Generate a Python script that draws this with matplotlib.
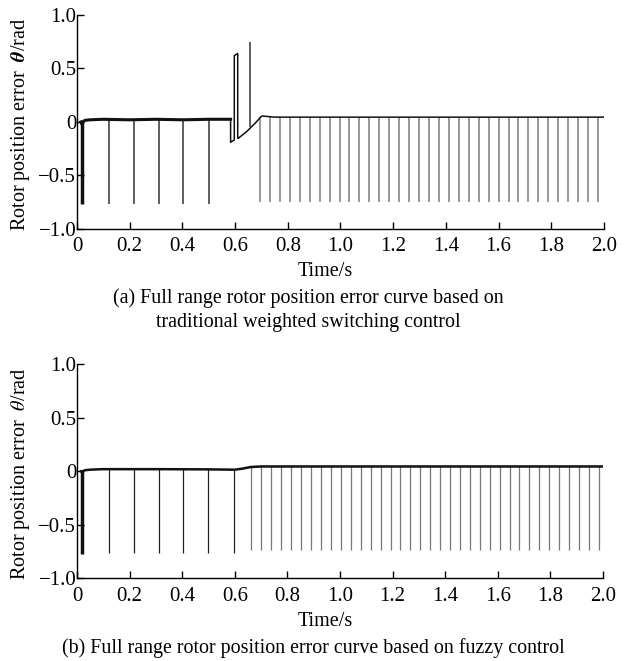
import matplotlib
matplotlib.use("Agg")
import matplotlib.pyplot as plt

plt.rcParams['font.family'] = ['Liberation Serif', 'DejaVu Serif']
plt.rcParams['mathtext.fontset'] = 'stix'

# --- (a) traditional weighted switching control ---
a_base_t = [0.015, 0.018, 0.022, 0.03, 0.05, 0.1, 0.2, 0.3, 0.4, 0.5, 0.583,
            0.583, 0.589, 0.597, 0.597, 0.61, 0.61, 0.612, 0.644, 0.676, 0.701, 0.75, 2.0]
a_base_v = [0.0, -0.02, 0.0, 0.015, 0.02, 0.025, 0.02, 0.025, 0.02, 0.025, 0.025,
            -0.19, -0.18, -0.17, 0.62, 0.64, -0.15, -0.153, -0.09, -0.012, 0.056, 0.045, 0.045]
a_early_spikes = [0.121, 0.216, 0.311, 0.404, 0.501]
a_early_depth = -0.77
a_up_spike_t = 0.658
a_up_spike = [-0.05, 0.75]
a_late_spikes = [0.695, 0.733, 0.771, 0.808, 0.846, 0.884, 0.921, 0.959, 0.997, 1.034,
                 1.072, 1.110, 1.148, 1.185, 1.223, 1.261, 1.298, 1.336, 1.374, 1.411,
                 1.449, 1.487, 1.525, 1.562, 1.600, 1.638, 1.675, 1.713, 1.751, 1.788,
                 1.826, 1.864, 1.902, 1.939, 1.977]
a_late_top = 0.045
a_late_depth = -0.745

# --- (b) fuzzy control ---
b_base_t = [0.015, 0.018, 0.022, 0.03, 0.05, 0.1, 0.3, 0.5, 0.6, 0.63, 0.66, 0.7, 2.0]
b_base_v = [0.0, -0.01, 0.0, 0.01, 0.015, 0.02, 0.02, 0.018, 0.015, 0.025, 0.04, 0.045, 0.045]
b_early_spikes = [0.123, 0.218, 0.312, 0.404, 0.500, 0.596]
b_early_depth = -0.76
b_late_spikes = [0.663, 0.701, 0.739, 0.776, 0.814, 0.852, 0.890, 0.927, 0.965, 1.003,
                 1.041, 1.078, 1.116, 1.154, 1.192, 1.229, 1.267, 1.305, 1.343, 1.380,
                 1.418, 1.456, 1.494, 1.531, 1.569, 1.607, 1.645, 1.682, 1.720, 1.758,
                 1.796, 1.833, 1.871, 1.909, 1.947, 1.985]
b_late_top = 0.045
b_late_depth = -0.74

start_spike_t = 0.018
start_spike_depth = -0.77

x_ticks = [0, 0.2, 0.4, 0.6, 0.8, 1.0, 1.2, 1.4, 1.6, 1.8, 2.0]
x_labels = ["0", "0.2", "0.4", "0.6", "0.8", "1.0", "1.2", "1.4", "1.6", "1.8", "2.0"]
y_ticks = [-1.0, -0.5, 0, 0.5, 1.0]
y_labels = ["\u22121.0", "\u22120.5", "0", "0.5", "1.0"]

fig = plt.figure(figsize=(6.3, 6.61), dpi=100)
ax1 = fig.add_axes([0.1222, 0.6536, 0.8365, 0.3238])
ax2 = fig.add_axes([0.1222, 0.1251, 0.8350, 0.3238])


def style(ax, ylabel):
    ax.set_xlim(0, 2.0)
    ax.set_ylim(-1.0, 1.0)
    for s in ['top', 'right']:
        ax.spines[s].set_visible(False)
    for s in ['left', 'bottom']:
        ax.spines[s].set_linewidth(1.0)
    ax.set_xticks(x_ticks)
    ax.set_xticklabels(x_labels)
    ax.set_yticks(y_ticks)
    ax.set_yticklabels(y_labels)
    ax.tick_params(direction='in', length=5, width=1, labelsize=15)
    ax.tick_params(axis='x', pad=6)
    ax.tick_params(axis='y', pad=0.5)
    ax.set_xlabel("Time/s", fontsize=14.5)
    ax.xaxis.set_label_coords(0.472, -0.2)
    ax.xaxis.label.set_va('center')
    ax.set_ylabel(ylabel, fontsize=14.5)
    ax.yaxis.set_label_coords(-0.108, 0.49)
    ax.yaxis.label.set_va('center')


# top panel
ax1.vlines(start_spike_t, start_spike_depth, 0.0, color='#111111', lw=2.5)
ax1.vlines(a_early_spikes, a_early_depth, 0.025, color='#333333', lw=1.1)
ax1.vlines(a_late_spikes, a_late_depth, a_late_top, color='#888888', lw=1.2)
ax1.vlines(a_up_spike_t, a_up_spike[0], a_up_spike[1], color='#333333', lw=1.1)
ax1.plot(a_base_t[:11], a_base_v[:11], color='#111111', lw=2.2)
ax1.plot(a_base_t[10:], a_base_v[10:], color='#111111', lw=1.1)
style(ax1, r"Rotor position error  $\boldsymbol{\theta}$/rad")

# bottom panel
ax2.vlines(start_spike_t, start_spike_depth, 0.0, color='#111111', lw=2.5)
ax2.vlines(b_early_spikes, b_early_depth, 0.02, color='#222222', lw=0.9)
ax2.vlines(b_late_spikes, b_late_depth, b_late_top, color='#777777', lw=0.9)
ax2.plot(b_base_t, b_base_v, color='#111111', lw=1.8)
style(ax2, r"Rotor position error  $\theta$/rad")

fig.text(0.490, 0.5485, "(a) Full range rotor position error curve based on",
         ha='center', va='center', fontsize=14.4)
fig.text(0.490, 0.5125, "traditional weighted switching control",
         ha='center', va='center', fontsize=14.4)
fig.text(0.498, 0.019, "(b) Full range rotor position error curve based on fuzzy control",
         ha='center', va='center', fontsize=14.4)

fig.savefig("out.png", dpi=100)
